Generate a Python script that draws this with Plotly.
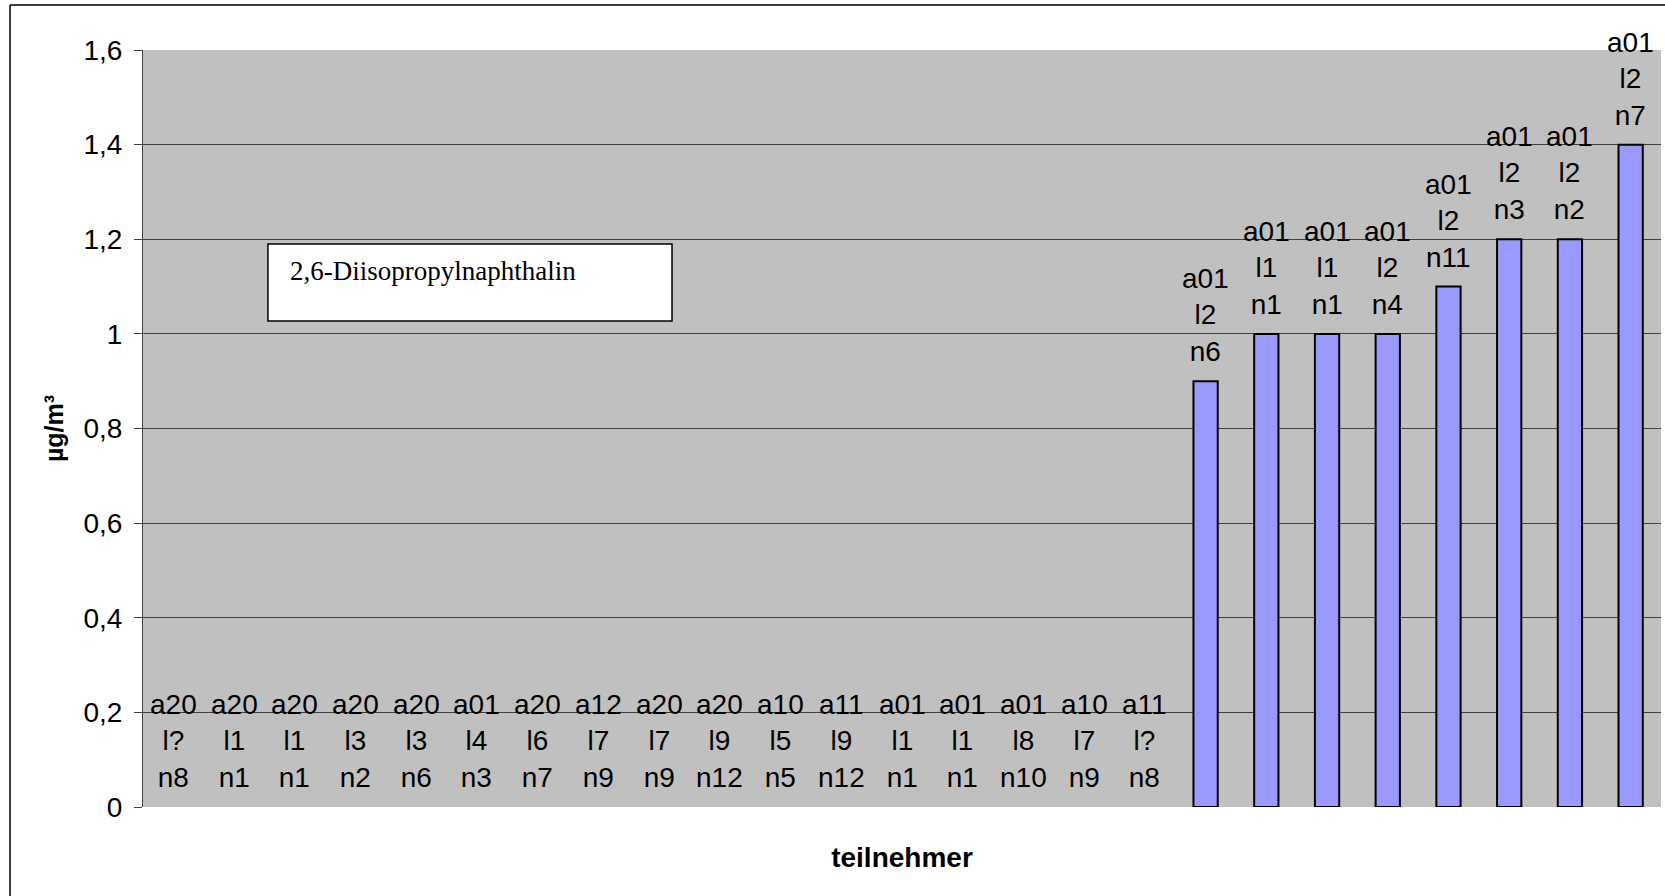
import plotly.graph_objects as go

labels = [
    "a20<br>l?<br>n8", "a20<br>l1<br>n1", "a20<br>l1<br>n1", "a20<br>l3<br>n2",
    "a20<br>l3<br>n6", "a01<br>l4<br>n3", "a20<br>l6<br>n7", "a12<br>l7<br>n9",
    "a20<br>l7<br>n9", "a20<br>l9<br>n12", "a10<br>l5<br>n5", "a11<br>l9<br>n12",
    "a01<br>l1<br>n1", "a01<br>l1<br>n1", "a01<br>l8<br>n10", "a10<br>l7<br>n9",
    "a11<br>l?<br>n8", "a01<br>l2<br>n6", "a01<br>l1<br>n1", "a01<br>l1<br>n1",
    "a01<br>l2<br>n4", "a01<br>l2<br>n11", "a01<br>l2<br>n3", "a01<br>l2<br>n2",
    "a01<br>l2<br>n7",
]
values = [0, 0, 0, 0, 0, 0, 0, 0, 0, 0, 0, 0, 0, 0, 0, 0, 0,
          0.9, 1.0, 1.0, 1.0, 1.1, 1.2, 1.2, 1.4]
y_ticks = [0, 0.2, 0.4, 0.6, 0.8, 1.0, 1.2, 1.4, 1.6]
y_tick_text = ["0", "0,2", "0,4", "0,6", "0,8", "1", "1,2", "1,4", "1,6"]
x_pos = list(range(len(values)))

FONT = "Liberation Sans, Arial, sans-serif"

fig = go.Figure()
fig.add_trace(go.Bar(
    x=x_pos, y=values, width=0.4,
    marker=dict(color="#9999FF",
                line=dict(color="black", width=[0 if v == 0 else 2 for v in values])),
    hoverinfo="skip",
))

for xi, v, lab in zip(x_pos, values, labels):
    fig.add_annotation(
        x=xi, y=v, xref="x", yref="y", text=lab, showarrow=False,
        yanchor="bottom", xanchor="center", yshift=12,
        font=dict(family=FONT, size=28, color="black"),
    )

# Legend-like text box
fig.add_shape(type="rect", xref="paper", yref="paper",
              x0=0.0823, x1=0.3485, y0=0.642, y1=0.7437,
              line=dict(color="black", width=1.5), fillcolor="white")
fig.add_annotation(
    xref="paper", yref="paper", x=0.0955, y=0.73, xanchor="left", yanchor="top",
    text="2,6-Diisopropylnaphthalin", showarrow=False,
    font=dict(family="Liberation Serif, Times New Roman, serif", size=27, color="black"),
)

# outer chart border (left + top)
fig.add_shape(type="line", xref="paper", yref="paper",
              x0=-0.0876, x1=-0.0876, y0=-0.2, y1=1.0594,
              line=dict(color="black", width=1.5))
fig.add_shape(type="line", xref="paper", yref="paper",
              x0=-0.0876, x1=1.05, y0=1.0594, y1=1.0594,
              line=dict(color="black", width=1.5))

fig.update_layout(
    width=1665, height=896,
    margin=dict(l=143, r=4, t=50, b=89),
    paper_bgcolor="white", plot_bgcolor="#C0C0C0",
    showlegend=False,
    font=dict(family=FONT, size=28, color="black"),
    xaxis=dict(
        range=[-0.5, len(values) - 0.5], showticklabels=False, showgrid=False,
        zeroline=False, showline=False, ticks="",
        title=dict(text="<b>teilnehmer</b>", font=dict(family=FONT, size=28),
                   standoff=40),
    ),
    yaxis=dict(
        range=[0, 1.6], tickvals=y_ticks, ticktext=y_tick_text,
        showgrid=True, gridcolor="#404040", gridwidth=1,
        zeroline=False, showline=True, linecolor="#404040", linewidth=1,
        ticks="outside", ticklen=8, tickcolor="#404040",
        ticklabelstandoff=6,
        tickfont=dict(family=FONT, size=28),
        title=dict(text="<b>µg/m³</b>", font=dict(family=FONT, size=25),
                   standoff=12),
    ),
)

fig.write_html("out.html",
               config={"displayModeBar": False},
               post_script="document.body.style.margin='0';document.body.style.overflow='hidden';")
